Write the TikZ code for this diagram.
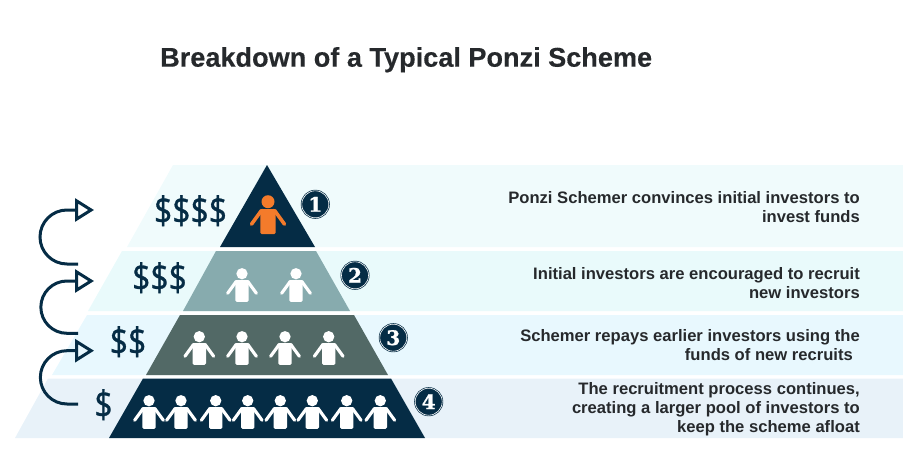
\documentclass[tikz,border=0pt]{standalone}
\usepackage{fontspec}
\setmainfont{Liberation Sans}
\newfontfamily\titlefont{Liberation Sans}[FakeBold=0.35]
\newfontfamily\numfont{DejaVu Serif}[FakeBold=1.2]
\newfontfamily\moneyfont{Open Sans}[FakeBold=0.9]
\usetikzlibrary{arrows.meta}
\definecolor{navy}{HTML}{052C45}
\definecolor{sage}{HTML}{87ABAE}
\definecolor{slate}{HTML}{526966}
\definecolor{band1}{HTML}{F0FBFC}
\definecolor{band2}{HTML}{E9FAFB}
\definecolor{band3}{HTML}{E8F8FE}
\definecolor{band4}{HTML}{E8F2F9}
\definecolor{orng}{HTML}{F47B2B}
\definecolor{ink}{HTML}{26292C}
% x, y of the head centre, colour, size factor
\newcommand{\personfig}[4]{%
  \fill[#3] (#1,#2) circle[radius={6.5*#4}];
  \fill[#3,rounded corners=1.5pt] ({#1-7.7*#4},{#2+7.5*#4}) rectangle ({#1+7.7*#4},{#2+32.5*#4});
  \draw[#3,line width={3.6pt*#4},line cap=round,line join=round] ({#1-6.5*#4},{#2+8.7*#4}) -- ({#1-16.5*#4},{#2+22.5*#4});
  \draw[#3,line width={3.6pt*#4},line cap=round,line join=round] ({#1+6.5*#4},{#2+8.7*#4}) -- ({#1+16.5*#4},{#2+22.5*#4});
}
\tikzset{
  desc/.style={font=\fontsize{16.6}{19}\selectfont\bfseries,text=ink,align=right,inner sep=0pt,anchor=north east},
  money/.style={font=\moneyfont\fontsize{38}{38}\selectfont,text=navy,inner sep=0pt,anchor=base},
  badge/.style={circle,minimum size=27pt,inner sep=0pt,fill=navy,draw=navy,line width=.7pt,double=white,double distance=.6pt,
    text=white,font=\numfont\bfseries\fontsize{20}{20}\selectfont},
  loop/.style={draw=navy,line width=3pt,-{Triangle[open,length=19pt,width=23pt]}},
}
\begin{document}
\begin{tikzpicture}[x=1pt,y=-1pt]
\useasboundingbox (0,0) rectangle (903,458);
% bands
\fill[band1] (173,165) -- (903,165) -- (903,247) -- (127,247) -- cycle;
\fill[band2] (122,251) -- (903,251) -- (903,311) -- (88,311) -- cycle;
\fill[band3] (87,315) -- (903,315) -- (903,375) -- (52,375) -- cycle;
\fill[band4] (48,378.5) -- (903,378.5) -- (903,438) -- (15,438) -- cycle;
% pyramid
\fill[navy] (267,165) -- (315,247) -- (220,247) -- cycle;
\fill[sage] (216,251) -- (316,251) -- (350,311) -- (183,311) -- cycle;
\fill[slate] (180,315) -- (354,315) -- (388,375) -- (146,375) -- cycle;
\fill[navy] (143,378.5) -- (391,378.5) -- (425,438) -- (109,438) -- cycle;
% people
\personfig{268}{201.7}{orng}{1}
\foreach \px in {242,296} {\personfig{\px}{273.7}{white}{.87}}
\foreach \px in {199.3,242,285,328.7} {\personfig{\px}{336.7}{white}{.87}}
\foreach \px in {149,181,215.7,247.7,280.3,312.3,346.7,380.3} {\personfig{\px}{400.7}{white}{.87}}
% money
\node[money] (m1) at (190.5,224) {\scalebox{.84}[1]{\$\$\$\$}};
\node[money] (m2) at (159.5,291) {\scalebox{.84}[1]{\$\$\$}};
\node[money] (m3) at (128,355) {\scalebox{.84}[1]{\$\$}};
\node[money] (m4) at (103.5,418) {\scalebox{.84}[1]{\$}};
% badges
\node[badge] (b1) at (315.3,204.3) {1};
\node[badge] (b2) at (355,275.3) {2};
\node[badge] (b3) at (393.3,337.7) {3};
\node[badge] (b4) at (428.7,401.7) {4};
% loops
\coordinate (l1s) at (78,264); \coordinate (l1e) at (94,210);
\coordinate (l2s) at (78,333.3); \coordinate (l2e) at (94,281);
\coordinate (l3s) at (78,404); \coordinate (l3e) at (94,350.7);
\draw[loop] (l1s) -- ++(-11,0) arc[start angle=90,end angle=270,radius=27] -- (l1e);
\draw[loop] (l2s) -- ++(-11,0) arc[start angle=90,end angle=270,radius=26.15] -- (l2e);
\draw[loop] (l3s) -- ++(-11,0) arc[start angle=90,end angle=270,radius=26.65] -- (l3e);
% title
\node[font=\titlefont\fontsize{27.1}{30}\selectfont\bfseries,text=ink,inner sep=0pt,anchor=base west] (title) at (160,66.7) {Breakdown of a Typical Ponzi Scheme};
% descriptions
\node[desc] (t1) at (860,191.5) {Ponzi Schemer convinces initial investors to\\invest funds};
\node[desc] (t2) at (860,267) {Initial investors are encouraged to recruit\\new investors};
\node[desc] (t3) at (860,329.5) {Schemer repays earlier investors using the\\funds of new recruits\hspace*{7pt}};
\node[desc] (t4) at (860,382) {The recruitment process continues,\\creating a larger pool of investors to\\keep the scheme afloat};
\end{tikzpicture}
\end{document}
